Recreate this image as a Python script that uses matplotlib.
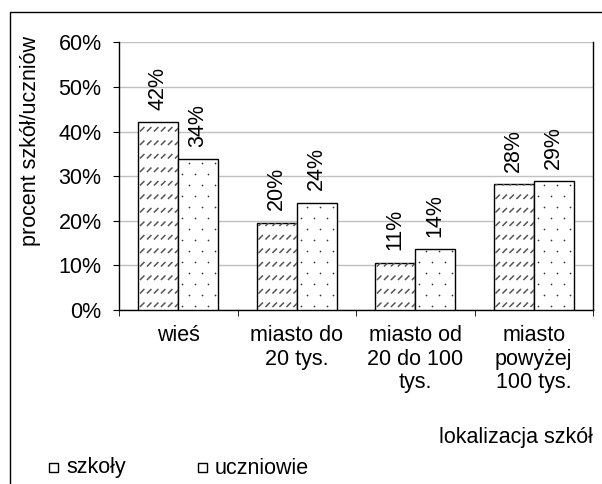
import numpy as np
import matplotlib.pyplot as plt
from matplotlib.patches import Rectangle
from matplotlib.collections import LineCollection

plt.rcParams['font.family'] = ['Liberation Sans', 'DejaVu Sans']

# dane
kategorie = ["wieś", "miasto do\n20 tys.", "miasto od\n20 do 100\ntys.", "miasto\npowyżej\n100 tys."]
szkoly = [42.1, 19.6, 10.6, 28.2]
uczniowie = [33.8, 24.1, 13.6, 28.9]
serie = ["szkoły", "uczniowie"]
y_ticks = [0, 10, 20, 30, 40, 50, 60]

FS = 15.5
W, H = 602, 484
fig = plt.figure(figsize=(W / 100, H / 100), dpi=100)
ax_l, ax_r, ax_t, ax_b = 119, 593, 42.4, 310
ax = fig.add_axes([ax_l / W, 1 - ax_b / H, (ax_r - ax_l) / W, (ax_b - ax_t) / H])

ax.set_xlim(-0.5, 3.5)
ax.set_ylim(0, 60)
# piksele na jednostke danych (do wzorow wypelnienia)
px_x = (ax_r - ax_l) / 4.0
px_y = (ax_b - ax_t) / 60.0

x = np.arange(len(kategorie))
w = 0.336
b1 = ax.bar(x - w / 2, szkoly, w, color='white', edgecolor='black', linewidth=1, zorder=3)
b2 = ax.bar(x + w / 2, uczniowie, w, color='white', edgecolor='black', linewidth=1, zorder=3)


def kreski(r):
    # rzedy krotkich ukosnych kresek
    x0, x1 = r.get_x(), r.get_x() + r.get_width()
    h = r.get_height()
    segs = []
    yy = 3.0 / px_y
    while yy < h:
        xx = x0 + 1.5 / px_x
        while xx < x1:
            segs.append([(xx, yy), (xx + 4.5 / px_x, yy + 4.5 / px_y)])
            xx += 7.0 / px_x
        yy += 13.5 / px_y
    lc = LineCollection(segs, colors='#555555', linewidths=1.1, zorder=4)
    ax.add_collection(lc)
    lc.set_clip_path(r)


def kropki(r):
    x0, x1 = r.get_x(), r.get_x() + r.get_width()
    h = r.get_height()
    xs, ys = [], []
    yy = 4.0 / px_y
    row = 0
    while yy < h:
        xx = x0 + (4.0 + (6.5 if row % 2 else 0)) / px_x
        while xx < x1:
            xs.append(xx)
            ys.append(yy)
            xx += 13.0 / px_x
        yy += 11.0 / px_y
        row += 1
    pts = ax.scatter(xs, ys, s=1.5, color='#333333', linewidths=0, zorder=4)
    pts.set_clip_path(r)


for r in b1:
    kreski(r)
for r in b2:
    kropki(r)

for bars, vals in [(b1, szkoly), (b2, uczniowie)]:
    for r, v in zip(bars, vals):
        ax.text(r.get_x() + r.get_width() / 2, v + 2.8, f"{v:.0f}%", rotation=90,
                ha='center', va='bottom', fontsize=FS)

ax.set_yticks(y_ticks)
ax.set_yticklabels([f"{t}%" for t in y_ticks], fontsize=FS)
ax.set_xticks(x)
ax.set_xticklabels(kategorie, fontsize=FS, linespacing=1.15, va='top')
ax.set_xticks(np.arange(-0.5, 4, 1), minor=True)
ax.tick_params(axis='x', which='major', length=0, pad=11)
ax.tick_params(axis='x', which='minor', length=4.5, direction='out')
ax.tick_params(axis='y', length=4.5, direction='out', pad=8)
ax.grid(axis='y', color='#c0c0c0', linewidth=1, zorder=0)
ax.spines['top'].set_visible(False)
for s in ['left', 'bottom', 'right']:
    ax.spines[s].set_linewidth(1)

fig.text(31 / W, 1 - 141 / H, "procent szkół/uczniów", rotation=90, ha='center', va='center', fontsize=FS)
fig.text(593 / W, 1 - 437 / H, "lokalizacja szkół", ha='right', va='center', fontsize=FS)

# legenda
for i, (nazwa, lx) in enumerate(zip(serie, [49, 198])):
    fig.add_artist(Rectangle((lx / W, 1 - 472 / H), 9 / W, 9 / H, transform=fig.transFigure,
                             facecolor='white', edgecolor='black', linewidth=1,
                             hatch='/' if i == 0 else None))
    fig.text((lx + 17) / W, 1 - 468 / H, nazwa, ha='left', va='center', fontsize=FS)

# ramka wykresu
fig.add_artist(Rectangle((10 / W, -0.1), 1.2, 1.1 - 12 / H, transform=fig.transFigure,
                         fill=False, edgecolor='black', linewidth=1))

fig.savefig("out.png", dpi=100)
